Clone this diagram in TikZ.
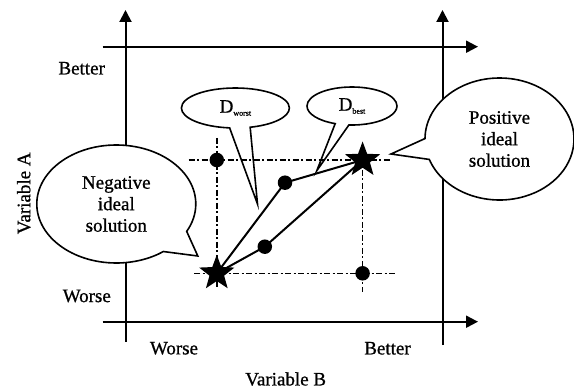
\documentclass[tikz,border=0pt]{standalone}
\usepackage{fontspec}
\setmainfont{Liberation Serif}[FakeBold=0.8]
\usetikzlibrary{arrows.meta,shapes.geometric,shapes.callouts}

\begin{document}
\begin{tikzpicture}[x=1pt,y=1pt,
  axis/.style={line width=2pt,-{Triangle[length=12pt,width=12pt]}},
  guide/.style={line width=1.4pt,dash pattern=on 6pt off 2.5pt on 2pt off 2.5pt},
  link/.style={line width=2pt},
  dot/.style={circle,fill=black,inner sep=0pt,minimum size=14.5pt},
  ideal/.style={star,star points=5,star point ratio=2.4,fill=black,inner sep=0pt,minimum size=37pt},
  bubble/.style={ellipse callout,draw,fill=white,line width=1.6pt,inner sep=0pt,align=center,
    font=\fontsize{19}{21.5}\selectfont},
  lbl/.style={font=\fontsize{19}{21.5}\selectfont}]

\useasboundingbox (0,0) rectangle (574,389);

% axes
\coordinate (l0) at (125.5,47.3);  \coordinate (l1) at (125.5,379);
\coordinate (r0) at (442.5,44);    \coordinate (r1) at (442.5,379);
\coordinate (t0) at (102.5,342.3); \coordinate (t1) at (478,342.3);
\coordinate (b0) at (102.5,67.3);  \coordinate (b1) at (478,67.3);
\draw[axis] (l0) -- (l1);
\draw[axis] (r0) -- (r1);
\draw[axis] (t0) -- (t1);
\draw[axis] (b0) -- (b1);

% axis labels
\node[lbl] (ybetter) at (81.7,320.7) {Better};
\node[lbl] (yworse) at (86.8,93) {Worse};
\node[lbl] (xworse) at (174,40.7) {Worse};
\node[lbl] (xbetter) at (387.5,40.7) {Better};
\node[lbl] (xname) at (285.7,10) {Variable B};
\node[lbl,rotate=90] (yname) at (23.8,195.7) {Variable A};

% speech bubbles
\coordinate (wtip) at (257.5,185);
\coordinate (btip) at (316.8,218.3);
\coordinate (ptip) at (391,235);
\coordinate (ntip) at (197.8,133);
\node[bubble,minimum width=108pt,minimum height=40pt,callout absolute pointer={(wtip)},
  callout pointer arc=22] (dworst) at (235.4,281)
  {D\raisebox{-3pt}{\fontsize{8}{8}\selectfont worst}};
\node[bubble,minimum width=90pt,minimum height=38pt,callout absolute pointer={(btip)},
  callout pointer arc=18] (dbest) at (352,283)
  {D\raisebox{-3pt}{\fontsize{8}{8}\selectfont best}};
\node[bubble,minimum width=149pt,minimum height=122pt,callout absolute pointer={(ptip)},
  callout pointer arc=20] (posb) at (499.5,250)
  {Positive\\ideal\\solution};
\node[bubble,minimum width=159pt,minimum height=118pt,callout absolute pointer={(ntip)},
  callout pointer arc=26] (negb) at (116.3,185)
  {Negative\\ideal\\solution};

% guide lines through the ideal solutions
\coordinate (h1a) at (188.6,229);  \coordinate (h1b) at (390,229);
\coordinate (h2a) at (194,115.7);  \coordinate (h2b) at (396,115.7);
\coordinate (v1a) at (216.8,251);  \coordinate (v1b) at (216.8,102.3);
\coordinate (v2a) at (362.6,219);  \coordinate (v2b) at (362.6,97.3);
\draw[guide] (h1a) -- (h1b);
\draw[guide] (h2a) -- (h2b);
\draw[guide] (v1a) -- (v1b);
\draw[guide] (v2a) -- (v2b);

% alternatives and ideal points
\node[dot] (c1) at (216.8,229) {};
\node[dot] (c2) at (362.6,115.7) {};
\node[dot] (m1) at (285,206.3) {};
\node[dot] (m2) at (264.8,142.3) {};
\node[ideal] (neg) at (216.8,115.7) {};
\node[ideal] (pos) at (362.6,229) {};

\draw[link] (neg.center) -- (m1.center) -- (pos.center);
\draw[link] (neg.center) -- (m2.center) -- (pos.center);

\end{tikzpicture}
\end{document}
